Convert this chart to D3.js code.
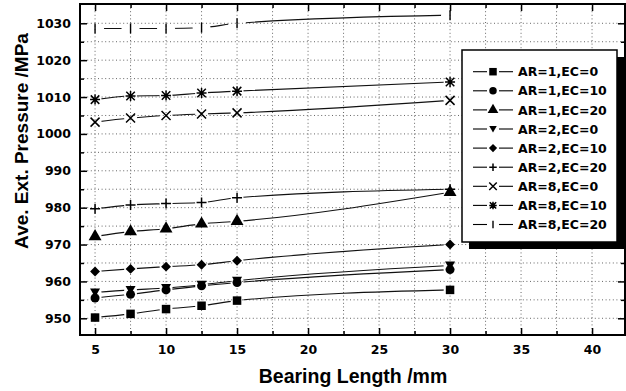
<!DOCTYPE html>
<html lang="en">
<head>
<meta charset="utf-8">
<script src="https://cdn.jsdelivr.net/npm/d3@7/dist/d3.min.js"></script>
<style>
  body { margin: 0; background: #fff; }
  svg { display: block; }
</style>
</head>
<body>
<script>
  // bearing lengths (mm)
  var lengths = [5, 7.5, 10, 12.5, 15, 30];

  // average extrusion pressure (MPa) per case
  var ar1ec0  = [950.2, 951.2, 952.5, 953.4, 954.8, 957.7];
  var ar1ec10 = [955.5, 956.5, 957.7, 958.8, 959.7, 963.2];
  var ar1ec20 = [972.2, 973.5, 974.3, 975.6, 976.3, 984.2];
  var ar2ec0  = [957.0, 957.7, 958.2, 959.1, 960.2, 964.3];
  var ar2ec10 = [962.7, 963.4, 964.0, 964.5, 965.6, 970.0];
  var ar2ec20 = [979.7, 980.7, 981.1, 981.4, 982.7, 985.0];
  var ar8ec0  = [1003.2, 1004.3, 1005.0, 1005.4, 1005.7, 1009.1];
  var ar8ec10 = [1009.3, 1010.3, 1010.4, 1011.1, 1011.6, 1014.1];
  var ar8ec20 = [1028.6, 1028.6, 1028.6, 1028.8, 1030.0, 1032.2];

  var seriesNames = ["AR=1,EC=0", "AR=1,EC=10", "AR=1,EC=20", "AR=2,EC=0", "AR=2,EC=10",
                     "AR=2,EC=20", "AR=8,EC=0", "AR=8,EC=10", "AR=8,EC=20"];
  var markerTypes = ["square", "circle", "up", "down", "diamond", "plus", "cross", "star", "bar"];
  var seriesValues = [ar1ec0, ar1ec10, ar1ec20, ar2ec0, ar2ec10, ar2ec20, ar8ec0, ar8ec10, ar8ec20];

  var xTicks = [5, 10, 15, 20, 25, 30, 35, 40];
  var yTicks = [950, 960, 970, 980, 990, 1000, 1010, 1020, 1030];

  var w = 626, h = 391;
  var plot = { left: 80, right: 625, top: 4, bottom: 335 };

  var xScale = d3.scaleLinear().domain([3.94, 42.32]).range([plot.left, plot.right]);
  var yScale = d3.scaleLinear().domain([945.47, 1035.23]).range([plot.bottom, plot.top]);

  var svg = d3.select("body").append("svg")
    .attr("width", w)
    .attr("height", h);

  var defs = svg.append("defs");

  // dotted grid, every 2.5 mm and every 5 MPa
  var xMinor = d3.range(5, 42.5, 2.5);
  var yMinor = d3.range(950, 1035, 5);
  var grid = svg.append("g").attr("class", "grid");
  grid.selectAll("line.gx").data(xMinor).enter().append("line")
    .attr("x1", d => xScale(d)).attr("x2", d => xScale(d))
    .attr("y1", plot.top).attr("y2", plot.bottom)
    .attr("stroke", "#666").attr("stroke-width", 1).attr("stroke-dasharray", "1,2.6");
  grid.selectAll("line.gy").data(yMinor).enter().append("line")
    .attr("x1", plot.left).attr("x2", plot.right)
    .attr("y1", d => yScale(d)).attr("y2", d => yScale(d))
    .attr("stroke", "#666").attr("stroke-width", 1).attr("stroke-dasharray", "1,2.6");

  function markerPath(type, s) {
    var r = s / 2;
    if (type == "square") return d3.symbol(d3.symbolSquare, s * s)();
    if (type == "circle") return d3.symbol(d3.symbolCircle, Math.PI * r * r)();
    if (type == "up") return d3.symbol(d3.symbolTriangle, s * s * 0.5)();
    if (type == "down") return "M" + (-r) + "," + (-r * 0.8) + "L" + r + "," + (-r * 0.8) + "L0," + (r * 0.95) + "Z";
    if (type == "diamond") return "M0," + (-r * 1.1) + "L" + (r * 1.1) + ",0L0," + (r * 1.1) + "L" + (-r * 1.1) + ",0Z";
    if (type == "plus") return "M" + (-r) + ",0L" + r + ",0M0," + (-r) + "L0," + r;
    if (type == "cross") return "M" + (-r) + "," + (-r) + "L" + r + "," + r + "M" + r + "," + (-r) + "L" + (-r) + "," + r;
    if (type == "star") {
      var a = r * 0.85;
      return "M" + (-r) + ",0L" + r + ",0M0," + (-r) + "L0," + r +
        "M" + (-a) + "," + (-a) + "L" + a + "," + a + "M" + a + "," + (-a) + "L" + (-a) + "," + a;
    }
    if (type == "bar") return "M0," + (-r) + "L0," + r;
  }
  var filled = { square: true, circle: true, up: true, down: true, diamond: true };

  function addMarker(g, type, x, y, s) {
    var p = g.append("path")
      .attr("d", markerPath(type, s))
      .attr("transform", "translate(" + x + "," + y + ")");
    if (filled[type]) p.attr("fill", "#000").attr("stroke", "none");
    else p.attr("fill", "none").attr("stroke", "#000").attr("stroke-width", type == "bar" ? 1.4 : 1.5);
  }

  var line = d3.line()
    .x(d => xScale(d[0]))
    .y(d => yScale(d[1]))
    .curve(d3.curveMonotoneX);

  seriesValues.forEach(function(vals, i) {
    var pts = lengths.map((l, j) => [l, vals[j]]);
    var gap = markerTypes[i] == "bar" ? 9 : 6.5;
    var mask = defs.append("mask")
      .attr("id", "gap" + i)
      .attr("maskUnits", "userSpaceOnUse")
      .attr("x", 0).attr("y", 0).attr("width", w).attr("height", h);
    mask.append("rect").attr("width", w).attr("height", h).attr("fill", "#fff");
    mask.selectAll("circle").data(pts).enter().append("circle")
      .attr("cx", d => xScale(d[0])).attr("cy", d => yScale(d[1]))
      .attr("r", gap).attr("fill", "#000");

    svg.append("path")
      .datum(pts)
      .attr("d", line)
      .attr("fill", "none")
      .attr("stroke", "#111")
      .attr("stroke-width", 1.1)
      .attr("mask", "url(#gap" + i + ")");

    var mg = svg.append("g");
    var size = { square: 8.5, circle: 9, up: 12, down: 10, diamond: 9, plus: 10, cross: 9, star: 10, bar: 10 }[markerTypes[i]];
    pts.forEach(p => addMarker(mg, markerTypes[i], xScale(p[0]), yScale(p[1]), size));
  });

  // axes: inward ticks on all four sides, labels on bottom and left
  var tickFont = "'DejaVu Sans', sans-serif";
  function styleAxis(g) {
    g.select(".domain").remove();
    g.selectAll(".tick line").attr("stroke", "#000").attr("stroke-width", 1.5);
    g.selectAll("text")
      .attr("font-family", tickFont)
      .attr("font-weight", "bold")
      .attr("font-size", 12.5)
      .attr("fill", "#000");
  }

  svg.append("g")
    .attr("transform", "translate(0," + plot.bottom + ")")
    .call(d3.axisBottom(xScale).tickValues(xTicks).tickSize(-7).tickPadding(10.5).tickFormat(d3.format("d")))
    .call(styleAxis);
  svg.append("g")
    .attr("transform", "translate(0," + plot.bottom + ")")
    .call(d3.axisBottom(xScale).tickValues(xMinor.filter(d => d % 5 != 0)).tickSize(-4).tickFormat(""))
    .call(styleAxis);
  svg.append("g")
    .attr("transform", "translate(0," + plot.top + ")")
    .call(d3.axisTop(xScale).tickValues(xTicks).tickSize(-7).tickFormat(""))
    .call(styleAxis);
  svg.append("g")
    .attr("transform", "translate(0," + plot.top + ")")
    .call(d3.axisTop(xScale).tickValues(xMinor.filter(d => d % 5 != 0)).tickSize(-4).tickFormat(""))
    .call(styleAxis);

  svg.append("g")
    .attr("transform", "translate(" + plot.left + ",0)")
    .call(d3.axisLeft(yScale).tickValues(yTicks).tickSize(-7).tickPadding(9).tickFormat(d3.format("d")))
    .call(styleAxis);
  svg.append("g")
    .attr("transform", "translate(" + plot.left + ",0)")
    .call(d3.axisLeft(yScale).tickValues(yMinor.filter(d => d % 10 != 0)).tickSize(-4).tickFormat(""))
    .call(styleAxis);
  svg.append("g")
    .attr("transform", "translate(" + plot.right + ",0)")
    .call(d3.axisRight(yScale).tickValues(yTicks).tickSize(-7).tickFormat(""))
    .call(styleAxis);
  svg.append("g")
    .attr("transform", "translate(" + plot.right + ",0)")
    .call(d3.axisRight(yScale).tickValues(yMinor.filter(d => d % 10 != 0)).tickSize(-4).tickFormat(""))
    .call(styleAxis);

  // frame
  svg.append("rect")
    .attr("x", plot.left).attr("y", plot.top)
    .attr("width", plot.right - plot.left).attr("height", plot.bottom - plot.top)
    .attr("fill", "none").attr("stroke", "#000").attr("stroke-width", 2);

  // axis titles
  svg.append("text")
    .text("Bearing Length /mm")
    .attr("x", 353).attr("y", 383)
    .attr("text-anchor", "middle")
    .attr("font-family", "'Liberation Sans', Arial, sans-serif")
    .attr("font-weight", "bold")
    .attr("font-size", 19.5);

  svg.append("text")
    .text("Ave. Ext. Pressure /MPa")
    .attr("transform", "translate(28,141) rotate(-90)")
    .attr("text-anchor", "middle")
    .attr("font-family", "'Liberation Sans', Arial, sans-serif")
    .attr("font-weight", "bold")
    .attr("font-size", 19);

  // legend with drop shadow
  var lg = { x: 462, y: 50, w: 155, h: 192, shadow: 7 };
  var legend = svg.append("g").attr("id", "legend");
  legend.append("rect")
    .attr("x", lg.x + lg.shadow).attr("y", lg.y + lg.shadow)
    .attr("width", lg.w).attr("height", lg.h)
    .attr("fill", "#000");
  legend.append("rect")
    .attr("x", lg.x).attr("y", lg.y)
    .attr("width", lg.w).attr("height", lg.h)
    .attr("fill", "#fff").attr("stroke", "#000").attr("stroke-width", 1.5);

  seriesNames.forEach(function(name, i) {
    var cy = 71.7 + i * 19.1;
    legend.append("line")
      .attr("x1", 473).attr("x2", 487).attr("y1", cy).attr("y2", cy)
      .attr("stroke", "#000").attr("stroke-width", 1.1);
    legend.append("line")
      .attr("x1", 499).attr("x2", 513).attr("y1", cy).attr("y2", cy)
      .attr("stroke", "#000").attr("stroke-width", 1.1);
    addMarker(legend, markerTypes[i], 493, cy, markerTypes[i] == "up" ? 10 : 7.5);
    legend.append("text")
      .text(name)
      .attr("x", 518).attr("y", cy + 4.6)
      .attr("font-family", tickFont)
      .attr("font-weight", "bold")
      .attr("font-size", 12.5);
  });
</script>
</body>
</html>
